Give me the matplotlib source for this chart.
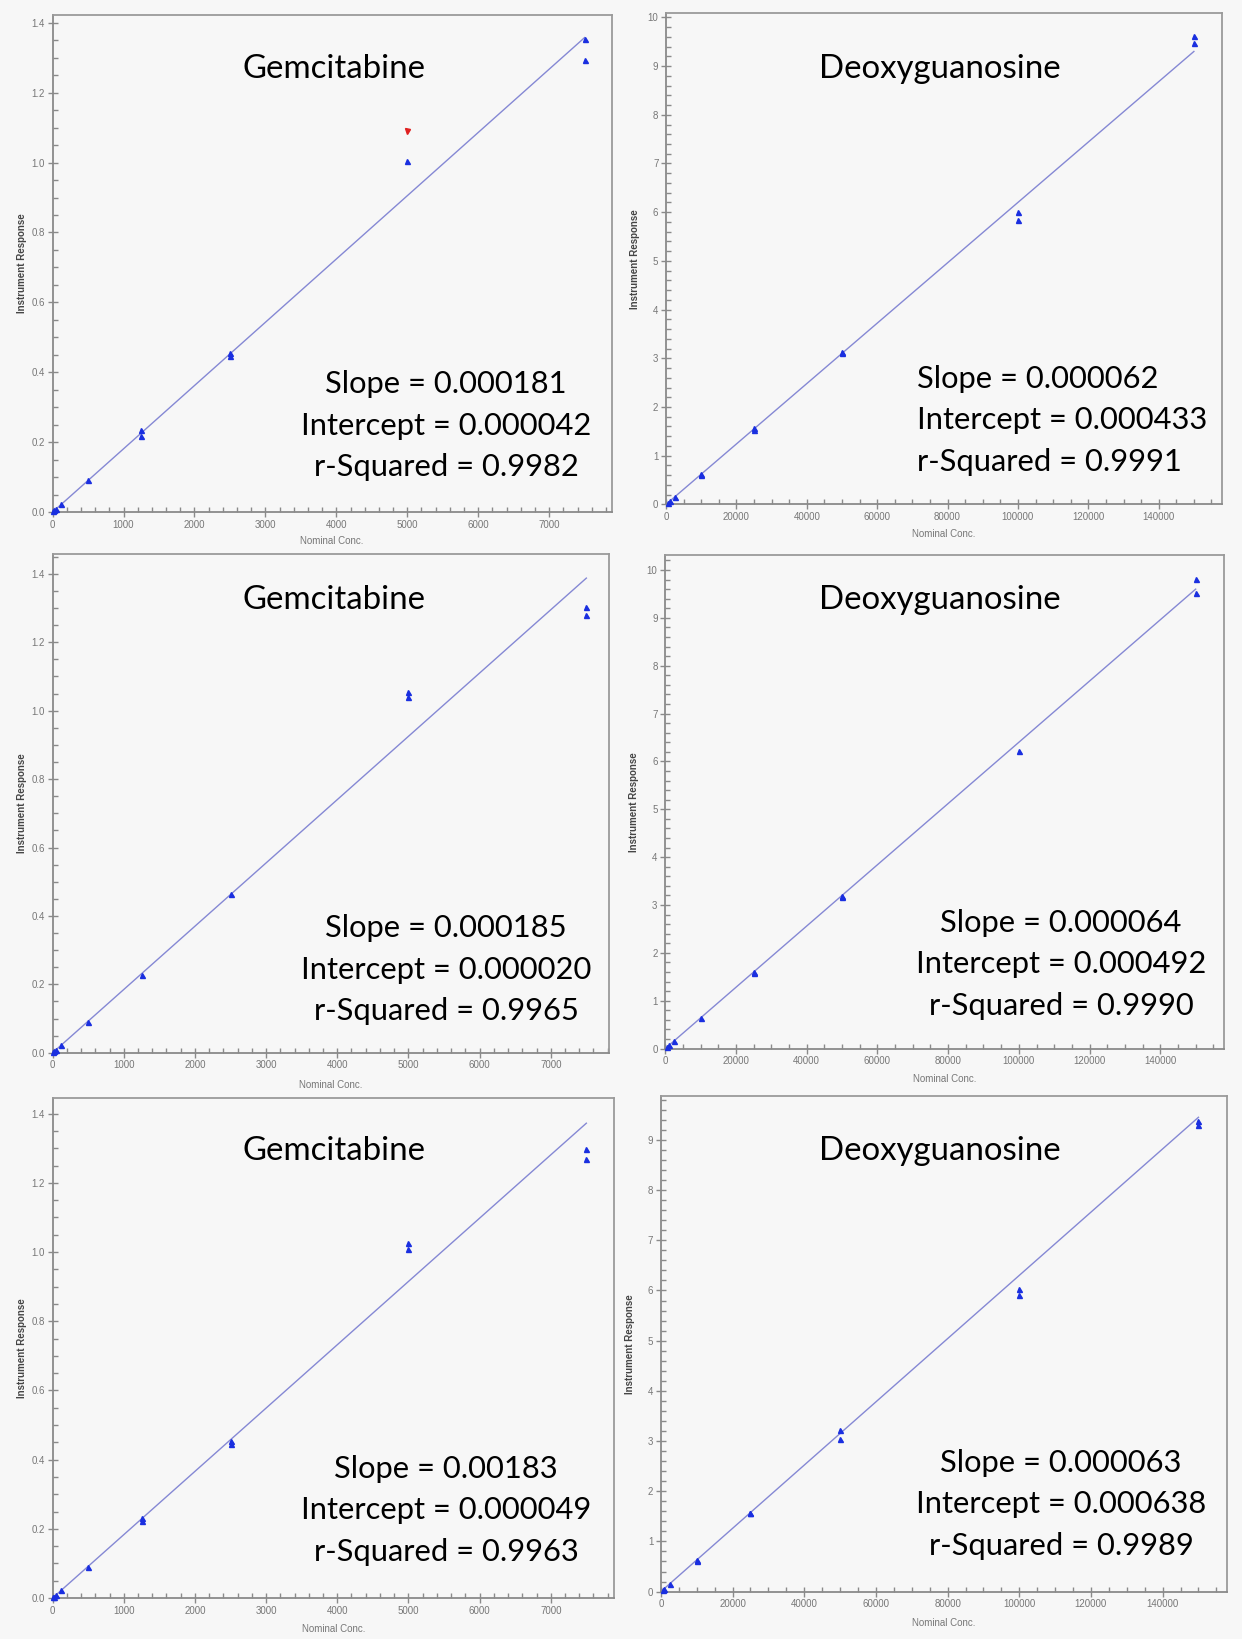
import matplotlib
matplotlib.use("Agg")
import matplotlib.pyplot as plt
from matplotlib.ticker import MultipleLocator, FormatStrFormatter

# ---------------- data ----------------
titles = ["Gemcitabine", "Deoxyguanosine", "Gemcitabine", "Deoxyguanosine", "Gemcitabine", "Deoxyguanosine"]

gem1_x = [10, 25, 50, 125, 500, 1250, 1250, 2500, 2500, 5000, 7500, 7500]
gem1_y = [0.002, 0.005, 0.009, 0.023, 0.092, 0.234, 0.219, 0.456, 0.446, 1.004, 1.353, 1.292]
gem1_excl_x = [5000]
gem1_excl_y = [1.091]

dg1_x = [500, 1000, 2500, 10000, 10000, 25000, 25000, 50000, 50000, 100000, 100000, 150000, 150000]
dg1_y = [0.03, 0.06, 0.16, 0.62, 0.61, 1.56, 1.53, 3.12, 3.10, 6.01, 5.84, 9.61, 9.48]

gem2_x = [10, 25, 50, 125, 500, 1250, 2500, 5000, 5000, 7500, 7500]
gem2_y = [0.002, 0.005, 0.009, 0.0225, 0.090, 0.2275, 0.463, 1.054, 1.039, 1.304, 1.281]

dg2_x = [500, 1000, 2500, 10000, 25000, 25000, 50000, 50000, 100000, 150000, 150000]
dg2_y = [0.03, 0.07, 0.16, 0.645, 1.60, 1.58, 3.18, 3.16, 6.21, 9.82, 9.53]

gem3_x = [10, 25, 50, 125, 500, 1250, 1250, 2500, 2500, 5000, 5000, 7500, 7500]
gem3_y = [0.002, 0.004, 0.008, 0.022, 0.091, 0.230, 0.224, 0.455, 0.445, 1.026, 1.008, 1.298, 1.268]

dg3_x = [500, 1000, 2500, 10000, 10000, 25000, 25000, 50000, 50000, 100000, 100000, 150000, 150000]
dg3_y = [0.03, 0.06, 0.16, 0.62, 0.61, 1.57, 1.56, 3.22, 3.05, 6.03, 5.91, 9.38, 9.30]

# fitted line parameters (used to draw regression lines)
fit_slopes = [0.000181, 0.000062, 0.000185, 0.000064, 0.000183, 0.000063]
fit_intercepts = [0.000042, 0.000433, 0.000020, 0.000492, 0.000049, 0.000638]

# stats text as printed
slope_txt = ["0.000181", "0.000062", "0.000185", "0.000064", "0.00183", "0.000063"]
intercept_txt = ["0.000042", "0.000433", "0.000020", "0.000492", "0.000049", "0.000638"]
rsq_txt = ["0.9982", "0.9991", "0.9965", "0.9990", "0.9963", "0.9989"]

xs = [gem1_x, dg1_x, gem2_x, dg2_x, gem3_x, dg3_x]
ys = [gem1_y, dg1_y, gem2_y, dg2_y, gem3_y, dg3_y]

# ---------------- layout ----------------
W, H = 1242, 1639
fig = plt.figure(figsize=(W / 100, H / 100), dpi=100)
BG = "#f7f7f7"
fig.patch.set_facecolor(BG)

# (left, right, top, bottom) in pixels
boxes = [
    (52.6, 611.7, 14.7, 512.1),
    (666.0, 1221.7, 13.0, 504.4),
    (52.6, 608.9, 554.0, 1052.8),
    (665.2, 1223.7, 554.7, 1048.6),
    (52.6, 614.1, 1097.8, 1598.0),
    (660.9, 1226.9, 1096.0, 1591.6),
]
xlims = [7882, 157900, 7817, 157930, 7890, 157940]
ylims = [1.423, 10.09, 1.458, 10.32, 1.446, 9.875]

title_pos = [(334, 69), (940, 69), (334, 600), (940, 600), (334, 1151), (940, 1151)]
# stats: (x, y of first line, alignment)
stats_pos = [(446, 384, "center"), (917, 379, "left"), (446, 928, "center"),
             (1061, 923, "center"), (446, 1469, "center"), (1061, 1463, "center")]
line_gap = 41.5

xlabel_y = [541, 534, 1085, 1079, 1629, 1623]

TXT_FONT = ["Lato", "DejaVu Sans"]
AX_FONT = ["Liberation Sans", "DejaVu Sans"]
GRAY = "#777777"
SPINE = "#8a8a8a"
LINE_C = "#8588d4"
MARK_C = "#1a2fe0"


def fx(px):
    return px / W


def fy(py):
    return 1 - py / H


for i in range(6):
    l, r, t, b = boxes[i]
    ax = fig.add_axes([fx(l), fy(b), (r - l) / W, (b - t) / H])
    ax.set_facecolor(BG)
    ax.set_xlim(0, xlims[i])
    ax.set_ylim(0, ylims[i])

    is_gem = (i % 2 == 0)
    xmax_data = max(xs[i])
    ax.plot([0, xmax_data],
            [fit_intercepts[i], fit_slopes[i] * xmax_data + fit_intercepts[i]],
            color=LINE_C, lw=1.0, zorder=2)
    ax.plot(xs[i], ys[i], linestyle="none", marker="^", ms=3.6, color=MARK_C,
            mec=MARK_C, zorder=3, clip_on=False)
    if i == 0:
        ax.plot(gem1_excl_x, gem1_excl_y, linestyle="none", marker="v", ms=3.6,
                color="#e02020", mec="#e02020", zorder=3)

    if is_gem:
        ax.xaxis.set_major_locator(MultipleLocator(1000))
        ax.xaxis.set_minor_locator(MultipleLocator(200))
        ax.yaxis.set_major_locator(MultipleLocator(0.2))
        ax.yaxis.set_minor_locator(MultipleLocator(0.05))
        ax.yaxis.set_major_formatter(FormatStrFormatter("%.1f"))
    else:
        ax.xaxis.set_major_locator(MultipleLocator(20000))
        ax.xaxis.set_minor_locator(MultipleLocator(5000))
        ax.yaxis.set_major_locator(MultipleLocator(1))
        ax.yaxis.set_minor_locator(MultipleLocator(0.2))

    ax.tick_params(axis="both", which="major", direction="inout", length=7,
                   width=1.0, color=SPINE, labelsize=7, labelcolor=GRAY, pad=2)
    ax.tick_params(axis="both", which="minor", direction="in", length=3.5,
                   width=1.0, color=SPINE)
    for lab in ax.get_xticklabels() + ax.get_yticklabels():
        lab.set_fontfamily(AX_FONT)
    for side in ["left", "bottom"]:
        ax.spines[side].set_color(SPINE)
        ax.spines[side].set_linewidth(1.3)
    for side in ["top", "right"]:
        ax.spines[side].set_color("#9a9a9a")
        ax.spines[side].set_linewidth(1.3)

    # axis labels
    fig.text(fx(l - 31), fy((t + b) / 2), "Instrument Response", rotation=90,
             ha="center", va="center", fontsize=7, fontweight="bold",
             color="#444444", family=AX_FONT)
    fig.text(fx((l + r) / 2), fy(xlabel_y[i]), "Nominal Conc.", ha="center",
             va="center", fontsize=7, color=GRAY, family=AX_FONT)

    # title
    tx, ty = title_pos[i]
    fig.text(fx(tx), fy(ty), titles[i], ha="center", va="center",
             fontsize=23.8, color="black", family=TXT_FONT)

    sx, sy, al = stats_pos[i]
    lines = ["Slope = " + slope_txt[i],
             "Intercept = " + intercept_txt[i],
             "r-Squared = " + rsq_txt[i]]
    for k, s in enumerate(lines):
        fig.text(fx(sx), fy(sy + k * line_gap), s, ha=al, va="center",
                 fontsize=22.2, color="black", family=TXT_FONT)

fig.savefig("out.png", dpi=100, facecolor=fig.get_facecolor())
